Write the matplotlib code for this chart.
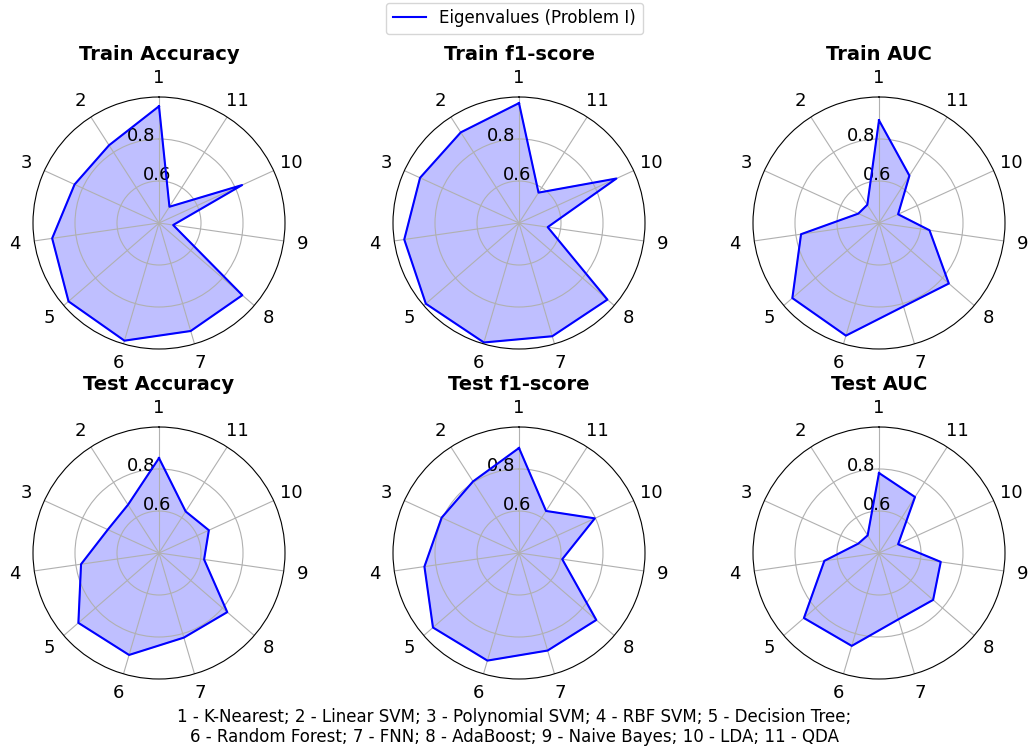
import numpy as np
import matplotlib
matplotlib.use("Agg")
import matplotlib.pyplot as plt

# model indices around each radar
categories = ["1", "2", "3", "4", "5", "6", "7", "8", "9", "10", "11"]

train_accuracy = [0.956, 0.840, 0.842, 0.914, 0.970, 0.984, 0.936, 0.925, 0.468, 0.835, 0.492]
train_f1 = [0.971, 0.913, 0.918, 0.952, 0.987, 0.993, 0.962, 0.957, 0.538, 0.910, 0.572]
train_auc = [0.889, 0.503, 0.508, 0.775, 0.946, 0.959, 0.814, 0.840, 0.643, 0.500, 0.668]
test_accuracy = [0.852, 0.673, 0.668, 0.775, 0.908, 0.906, 0.820, 0.830, 0.617, 0.661, 0.635]
test_f1 = [0.900, 0.805, 0.805, 0.855, 0.942, 0.934, 0.884, 0.887, 0.608, 0.797, 0.638]
test_auc = [0.781, 0.500, 0.508, 0.663, 0.873, 0.861, 0.729, 0.741, 0.697, 0.500, 0.717]

titles = ["Train Accuracy", "Train f1-score", "Train AUC",
          "Test Accuracy", "Test f1-score", "Test AUC"]
series = [train_accuracy, train_f1, train_auc, test_accuracy, test_f1, test_auc]

footer = ("1 - K-Nearest; 2 - Linear SVM; 3 - Polynomial SVM; 4 - RBF SVM; 5 - Decision Tree;\n"
          "6 - Random Forest; 7 - FNN; 8 - AdaBoost; 9 - Naive Bayes; 10 - LDA; 11 - QDA")

W, H = 1029, 747
fig = plt.figure(figsize=(W / 100, H / 100), dpi=100)

angles = np.linspace(0, 2 * np.pi, len(categories), endpoint=False)
closed = np.concatenate([angles, angles[:1]])

R = 126
centers_x = [159, 519, 879]
centers_y = [223, 553]

for k, (title, vals) in enumerate(zip(titles, series)):
    cx = centers_x[k % 3]
    cy = centers_y[k // 3]
    ax = fig.add_axes([(cx - R) / W, (H - cy - R) / H, 2 * R / W, 2 * R / H], polar=True)
    ax.set_theta_offset(np.pi / 2)
    v = np.concatenate([vals, vals[:1]])
    ln, = ax.plot(closed, v, color="blue", linewidth=1.5, label="Eigenvalues (Problem I)")
    ax.fill(closed, v, color="blue", alpha=0.25)
    ax.set_xticks(angles)
    ax.set_xticklabels(categories, fontsize=13)
    ax.set_ylim(0.4, 1.0)
    ax.set_yticks([0.6, 0.8])
    ax.set_yticklabels(["0.6", "0.8"], fontsize=13)
    ax.set_title(title, fontsize=14, fontweight="bold")
    if k == 0:
        handle = ln

fig.legend([handle], ["Eigenvalues (Problem I)"], loc="upper center",
           bbox_to_anchor=(0.5, 1.0), borderaxespad=0.15, fontsize=12)
fig.text(0.5, (H - 727) / H, footer, ha="center", va="center", fontsize=12)

fig.savefig("out.png", dpi=100)
